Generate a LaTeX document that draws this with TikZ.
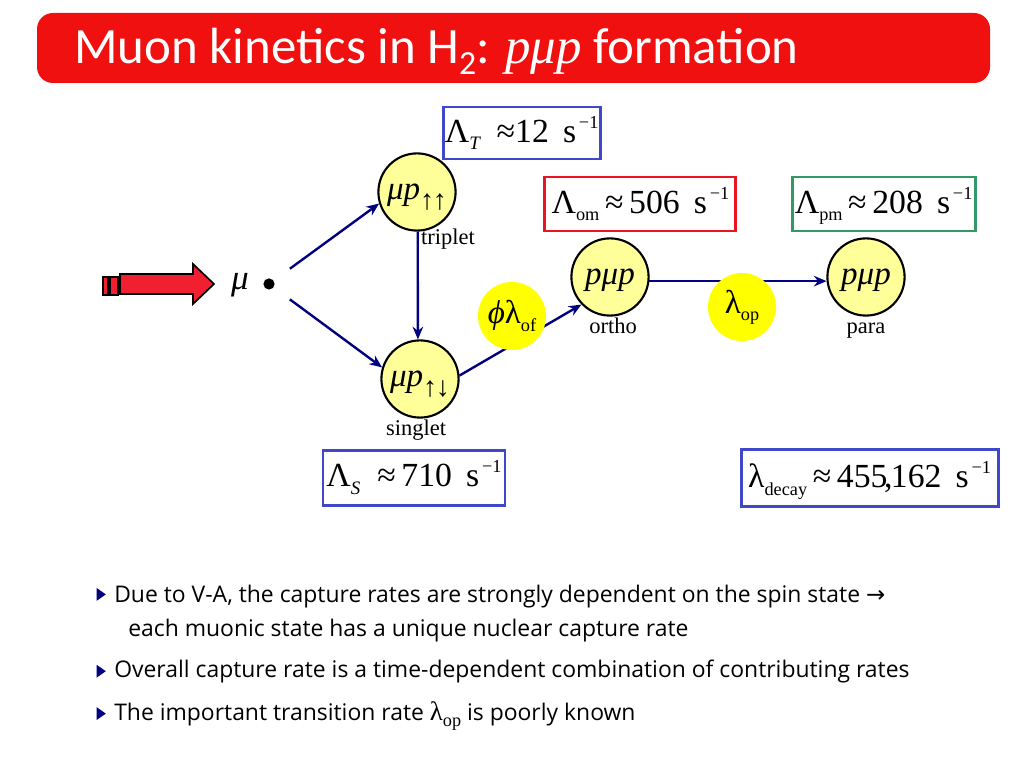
\documentclass[tikz,border=0pt]{standalone}
\usepackage{xcolor}
\usepackage{fontspec}
\setmainfont{Open Sans}
\newfontfamily\timesfont{Liberation Serif}
\newfontfamily\titlefont{Carlito}
\newfontfamily\arrowfont{DejaVu Sans}
\definecolor{titlered}{HTML}{F01010}
\definecolor{beamred}{HTML}{F02030}
\definecolor{boxblue}{HTML}{3F48C8}
\definecolor{boxred}{HTML}{EE1122}
\definecolor{boxgreen}{HTML}{339966}
\definecolor{statecolor}{HTML}{FFFF99}
\definecolor{ratecolor}{HTML}{FFFF00}
\definecolor{flowcolor}{HTML}{000080}
\newcommand{\lowtext}[1]{\raisebox{-0.22em}{\fontsize{13}{14}\selectfont #1}}
\newcommand{\lowital}[1]{\raisebox{-0.22em}{\itshape\fontsize{13.5}{14}\selectfont #1}}
\newcommand{\lowarrows}[1]{\raisebox{-0.3em}{\upshape\fontsize{20}{22}\selectfont #1}}
\newcommand{\perSec}{\hspace{0.42em}s\kern0.08em\raisebox{0.42em}{\fontsize{13}{14}\selectfont −1}}
\tikzset{
  ratebox/.style={draw, rectangle, line width=2.1pt, inner sep=0pt, fill=white, text height=0.72cm, text depth=0.25cm, font=\timesfont\fontsize{24}{27}\selectfont},
  statenode/.style={draw, circle, line width=1.5pt, minimum size=1.93cm, inner sep=0pt, fill=statecolor, text height=0.63cm, text depth=0.25cm, font=\timesfont\fontsize{23.5}{28}\selectfont},
  ratenode/.style={circle, minimum size=1.7cm, inner sep=0pt, fill=ratecolor, font=\timesfont\fontsize{23.5}{28}\selectfont},
  statelabel/.style={anchor=base, inner sep=0pt, font=\timesfont\fontsize{16}{18}\selectfont},
  flow/.style={draw=flowcolor, line width=1.7pt, -{Stealth[length=9pt,width=7.5pt]}},
  bodytext/.style={anchor=base west, inner sep=0pt, font=\fontsize{16.3}{19}\selectfont},
  bullet/.style={isosceles triangle, isosceles triangle apex angle=70, fill=flowcolor, minimum size=6.5pt, inner sep=0pt}
}
\usetikzlibrary{arrows.meta,shapes.geometric}

\begin{document}
\begin{tikzpicture}
\useasboundingbox (0,0) rectangle (25.6,19.2);
% title bar
\node[fill=titlered, rounded corners=0.4cm, minimum width=23.825cm, minimum height=1.75cm, inner sep=0pt] (titlebar) at (12.8375,18) {};
\node[anchor=base west, inner sep=0pt, text=white, font=\titlefont\fontsize{36.2}{40}\selectfont] (titletext) at (1.85,17.6) {Muon kinetics in H\raisebox{-0.2em}{\fontsize{24}{26}\selectfont 2}: {\timesfont\itshape pμp} formation};
% incoming beam
\draw[line width=1.2pt, fill=beamred] (2.575,12.275) rectangle (2.7,11.825);
\draw[line width=1.2pt, fill=beamred] (2.75,12.275) rectangle (2.95,11.825);
\draw[line width=1.2pt, fill=beamred] (3.0,12.35) -- (4.825,12.35) -- (4.825,12.6) -- (5.35,12.1) -- (4.825,11.6) -- (4.825,11.85) -- (3.0,11.85) -- cycle;
\node[font=\timesfont\itshape\fontsize{25}{28}\selectfont] (muon) at (6.0,12.08) {μ};
\node[circle, fill=black, minimum size=0.28cm, inner sep=0pt] (dot) at (6.725,12.1) {};
% states
\node[statenode] (triplet) at (10.425,14.4) {\itshape μp\lowarrows{↑\kern-0.05em↑}};
\node[statenode] (singlet) at (10.5,9.725) {\itshape μp\lowarrows{↑\kern-0.05em↓}};
\node[statenode] (ortho) at (15.25,12.275) {\itshape pμp};
\node[statenode] (para) at (21.65,12.275) {\itshape pμp};
\node[statelabel] (tripletlabel) at (11.2,13.075) {triplet};
\node[statelabel] (singletlabel) at (10.4,8.3) {singlet};
\node[statelabel] (ortholabel) at (15.33,10.85) {ortho};
\node[statelabel] (paralabel) at (21.65,10.85) {para};
% connectors
\draw[flow, shorten <=0.5cm] (dot) -- (triplet.197);
\draw[flow, shorten <=0.5cm] (dot) -- (singlet.163);
\draw[flow] (triplet.271.5) -- (singlet.93);
\draw[flow] (singlet.5) -- (ortho.224);
\draw[flow] (ortho.354) -- (para.186);
% rates on the connectors
\node[ratenode] (ratephi) at (12.8,11.3) {{\itshape ϕ}λ\lowtext{of}};
\node[ratenode] (rateop) at (18.55,11.525) {λ\lowtext{op}};
% boxes
\node[ratebox, draw=boxblue, minimum width=3.925cm, minimum height=1.3cm] (boxtriplet) at (13.04,15.875) {Λ\lowital{T}\,\,\,≈12\perSec};
\node[ratebox, draw=boxred, minimum width=4.775cm, minimum height=1.35cm] (boxortho) at (16.01,14.1) {Λ\lowtext{om}\,≈\,506\perSec};
\node[ratebox, draw=boxgreen, minimum width=4.575cm, minimum height=1.35cm] (boxpara) at (22.09,14.1) {Λ\lowtext{pm}\,≈\,208\perSec};
\node[ratebox, draw=boxblue, minimum width=4.55cm, minimum height=1.375cm] (boxsinglet) at (10.35,7.26) {Λ\lowital{S}\,\,\,≈\,710\perSec};
\node[ratebox, draw=boxblue, minimum width=6.425cm, minimum height=1.425cm] (boxdecay) at (21.74,7.24) {λ\lowtext{decay}\,≈\,455\kern-0.1em,\kern-0.05em162\perSec};
% bullet list
\node[bullet] (bulletone) at (2.5,4.34) {};
\node[bullet] (bullettwo) at (2.5,2.42) {};
\node[bullet] (bulletthree) at (2.5,1.36) {};
\node[bodytext] (lineone) at (2.85,4.125) {Due to V-A, the capture rates are strongly dependent on the spin state {\arrowfont →}};
\node[bodytext] (linetwo) at (3.2,3.275) {each muonic state has a unique nuclear capture rate};
\node[bodytext] (linethree) at (2.85,2.25) {Overall capture rate is a time-dependent combination of contributing rates};
\node[bodytext] (linefour) at (2.85,1.175) {The important transition rate {\timesfont\fontsize{19}{20}\selectfont λ\lowtext{op}} is poorly known};
\end{tikzpicture}
\end{document}
